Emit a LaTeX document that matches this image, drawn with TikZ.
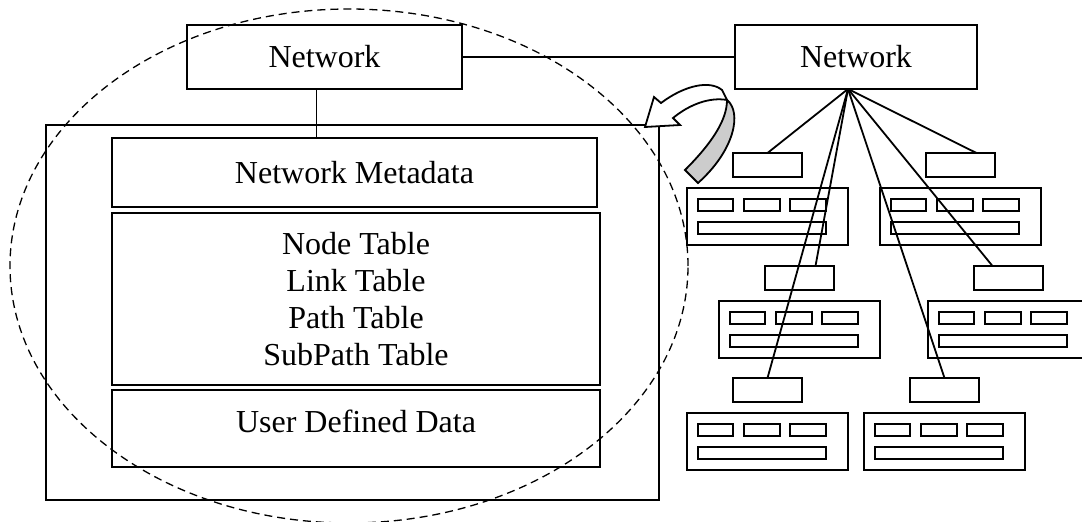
\documentclass[tikz,border=0pt]{standalone}
\usepackage{fontspec}
\setmainfont{Liberation Serif}
\usetikzlibrary{calc,positioning}
\definecolor{foldgray}{RGB}{204,204,204}

\begin{document}
\begin{tikzpicture}[x=1pt,y=-1pt,
  box/.style={draw,line width=1.8pt,inner sep=0pt,outer sep=0pt,anchor=north west},
  txt/.style={font=\fontsize{32}{37}\selectfont,align=center},
  lbl/.style={draw,line width=1.8pt,inner sep=0pt,outer sep=0pt,minimum width=69,minimum height=24},
  wire/.style={line width=1.8pt}] % 1 unit = 1px of the original

\useasboundingbox (0,0) rectangle (1082,522);

%LINKE SEITE: NETZWERK-DATEI

%AEUSSERER RAHMEN
\node[box,minimum width=613,minimum height=375] (file) at (46,125) {};

%NETZWERK OBEN LINKS
\node[box,txt,minimum width=275,minimum height=64] (net1) at (187,25) {Network};

%INHALT
\node[box,txt,minimum width=485,minimum height=69] (meta) at (112,138) {Network Metadata};
\node[box,txt,minimum width=488,minimum height=172] (tables) at (112,213)
  {Node Table\\Link Table\\Path Table\\SubPath Table};
\node[box,minimum width=488,minimum height=77] (user) at (112,390) {};
\node[txt] at ($(user.center)+(0,-7)$) {User Defined Data};

\coordinate (drop) at ([xshift=-8pt]net1.south);
\draw[wire] (drop) -- (drop |- meta.north);

%GESTRICHELTE ELLIPSE
\draw[line width=1.3pt,dash pattern=on 8pt off 5pt] (349,266) ellipse [x radius=339pt,y radius=257pt];

%GEBOGENER PFEIL
\filldraw[fill=white,line width=1.8pt] (645,127) -- (654,97) -- (661,103)
  .. controls (685,85) and (710,80) .. (722,90) -- (727,100)
  .. controls (710,97) and (690,104) .. (673,118) -- (680,125) -- cycle;
\filldraw[fill=foldgray,line width=1.8pt] (727,100)
  .. controls (742,112) and (735,150) .. (698,183) -- (685,170)
  .. controls (712,143) and (727,120) .. cycle;

%RECHTE SEITE: NETZWERK

\node[box,txt,minimum width=242,minimum height=64] (net2) at (735,25) {Network};
\coordinate (hub) at ([xshift=-8pt]net2.south);

\draw[wire] (net1.east) -- (net2.west);

%SERVER NR. 1 (oben links)
\node[box,minimum width=161,minimum height=57] (srvA) at (687,188) {};
\node[lbl,above=11pt of srvA] (lblA) {};
\draw[wire] ($(srvA.north west)+(11,11)$) rectangle +(35,12);
\draw[wire] ($(srvA.north west)+(57,11)$) rectangle +(36,12);
\draw[wire] ($(srvA.north west)+(103,11)$) rectangle +(36,12);
\draw[wire] ($(srvA.north west)+(11,34)$) rectangle +(128,12);

%SERVER NR. 2 (oben rechts)
\node[box,minimum width=161,minimum height=57] (srvB) at (880,188) {};
\node[lbl,above=11pt of srvB] (lblB) {};
\draw[wire] ($(srvB.north west)+(11,11)$) rectangle +(35,12);
\draw[wire] ($(srvB.north west)+(57,11)$) rectangle +(36,12);
\draw[wire] ($(srvB.north west)+(103,11)$) rectangle +(36,12);
\draw[wire] ($(srvB.north west)+(11,34)$) rectangle +(128,12);

%SERVER NR. 3 (mitte links)
\node[box,minimum width=161,minimum height=57] (srvC) at (719,301) {};
\node[lbl,above=11pt of srvC] (lblC) {};
\draw[wire] ($(srvC.north west)+(11,11)$) rectangle +(35,12);
\draw[wire] ($(srvC.north west)+(57,11)$) rectangle +(36,12);
\draw[wire] ($(srvC.north west)+(103,11)$) rectangle +(36,12);
\draw[wire] ($(srvC.north west)+(11,34)$) rectangle +(128,12);

%SERVER NR. 4 (mitte rechts)
\node[box,minimum width=161,minimum height=57] (srvD) at (928,301) {};
\node[lbl,above=11pt of srvD] (lblD) {};
\draw[wire] ($(srvD.north west)+(11,11)$) rectangle +(35,12);
\draw[wire] ($(srvD.north west)+(57,11)$) rectangle +(36,12);
\draw[wire] ($(srvD.north west)+(103,11)$) rectangle +(36,12);
\draw[wire] ($(srvD.north west)+(11,34)$) rectangle +(128,12);

%SERVER NR. 5 (unten links)
\node[box,minimum width=161,minimum height=57] (srvE) at (687,413) {};
\node[lbl,above=11pt of srvE] (lblE) {};
\draw[wire] ($(srvE.north west)+(11,11)$) rectangle +(35,12);
\draw[wire] ($(srvE.north west)+(57,11)$) rectangle +(36,12);
\draw[wire] ($(srvE.north west)+(103,11)$) rectangle +(36,12);
\draw[wire] ($(srvE.north west)+(11,34)$) rectangle +(128,12);

%SERVER NR. 6 (unten rechts)
\node[box,minimum width=161,minimum height=57] (srvF) at (864,413) {};
\node[lbl,above=11pt of srvF] (lblF) {};
\draw[wire] ($(srvF.north west)+(11,11)$) rectangle +(35,12);
\draw[wire] ($(srvF.north west)+(57,11)$) rectangle +(36,12);
\draw[wire] ($(srvF.north west)+(103,11)$) rectangle +(36,12);
\draw[wire] ($(srvF.north west)+(11,34)$) rectangle +(128,12);

%VERBINDUNGEN VOM NETZWERK
\draw[wire] (hub) -- (lblA.north);
\draw[wire] (hub) -- ([xshift=16pt]lblB.north);
\draw[wire] (hub) -- ([xshift=16pt]lblC.north);
\draw[wire] (hub) -- ([xshift=-16pt]lblD.north);
\draw[wire] (hub) -- (lblE.north);
\draw[wire] (hub) -- (lblF.north);

\end{tikzpicture}
\end{document}
